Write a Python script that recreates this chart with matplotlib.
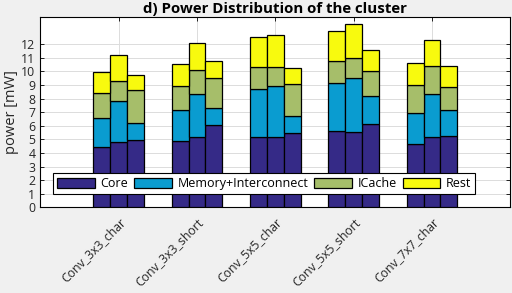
import matplotlib
matplotlib.use("Agg")
import matplotlib.pyplot as plt
import numpy as np

categories = ["Conv_3x3_char", "Conv_3x3_short", "Conv_5x5_char", "Conv_5x5_short", "Conv_7x7_char"]
series_names = ["Core", "Memory+Interconnect", "ICache", "Rest"]
# cumulative tops for each of 3 bars per group
core_top = [[4.42, 4.79, 4.93], [4.86, 5.18, 6.04], [5.18, 5.18, 5.45], [5.60, 5.52, 6.11], [4.64, 5.15, 5.23]]
mem_top = [[6.55, 7.80, 6.19], [7.14, 8.32, 7.29], [8.69, 8.91, 6.70], [9.13, 9.50, 8.17], [6.92, 8.32, 7.14]]
icache_top = [[8.39, 9.28, 8.62], [8.91, 10.09, 9.50], [10.31, 10.31, 9.06], [10.75, 10.97, 10.01], [8.98, 10.38, 8.84]]
rest_top = [[9.94, 11.19, 9.72], [10.53, 12.08, 10.75], [12.52, 12.67, 10.24], [12.96, 13.48, 11.56], [10.60, 12.30, 10.38]]
colors = ["#352a87", "#0a9cd0", "#a6be6a", "#f8fa0e"]

plt.rcParams['font.family'] = ['Open Sans', 'DejaVu Sans']
fig = plt.figure(figsize=(5.12, 2.93), dpi=100, facecolor="#f0f0f0")
ax = fig.add_axes([40.3/512, 1-207.3/293, 470/512, 190.3/293])
ax.set_facecolor("white")

tops = np.array([core_top, mem_top, icache_top, rest_top])
width = 0.216
offsets = [-width, 0, width]
handles = []
for s in range(4):
    for b in range(3):
        x = np.arange(1, 6) + offsets[b]
        top = tops[s, :, b]
        bottom = tops[s-1, :, b] if s > 0 else np.zeros(5)
        h = ax.bar(x, top - bottom, width, bottom=bottom, color=colors[s],
                   edgecolor="black", linewidth=0.9, zorder=3)
        if b == 0:
            handles.append(h)

ax.set_xlim(0, 6)
ax.set_ylim(0, 14)
ax.set_yticks(range(0, 13))
ax.set_xticks(range(1, 6))
ax.set_xticklabels(categories, rotation=45, ha="right", rotation_mode="anchor", fontsize=9.5)
ax.tick_params(axis="both", direction="in", labelsize=8.8, length=3, width=0.6,
               top=True, right=True, pad=3.5, labelcolor="#262626")
ax.tick_params(axis="x", pad=6)
ax.grid(True, color="#dcdcdc", linewidth=0.7, zorder=0)
for sp in ax.spines.values():
    sp.set_linewidth(0.8)
ax.set_ylabel("power [mW]", fontsize=10.5, labelpad=1.5, color="#262626")
ax.set_title("d) Power Distribution of the cluster", fontsize=10.8, fontweight="bold", pad=3)

leg = ax.legend(handles=handles, labels=series_names, ncol=4, loc="lower left",
                bbox_to_anchor=(0.028, 0.07, 0.897, 0.114), mode="expand",
                fontsize=9, frameon=True, fancybox=False, edgecolor="black", framealpha=1,
                handlelength=3.0, handleheight=0.85, handletextpad=0.45, columnspacing=0.5,
                borderpad=0.3, borderaxespad=0)
leg.get_frame().set_linewidth(0.8)
leg.set_zorder(5)

fig.savefig("out.png", dpi=100, facecolor=fig.get_facecolor())
